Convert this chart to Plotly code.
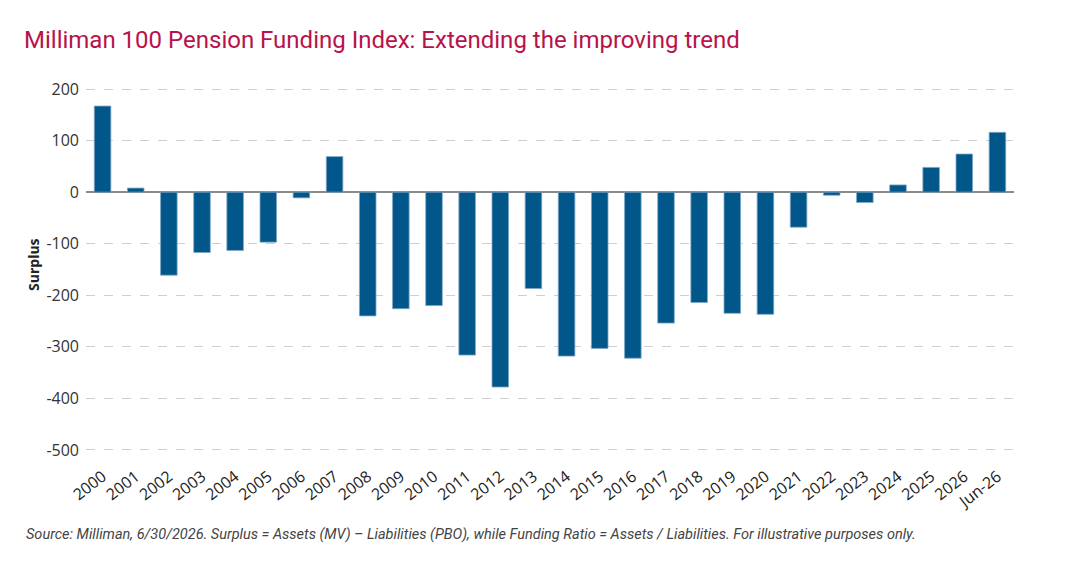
import plotly.graph_objects as go

categories = ["2000", "2001", "2002", "2003", "2004", "2005", "2006", "2007", "2008", "2009",
              "2010", "2011", "2012", "2013", "2014", "2015", "2016", "2017", "2018", "2019",
              "2020", "2021", "2022", "2023", "2024", "2025", "2026", "Jun-26"]
surplus = [167, 8, -161, -117, -113, -97, -11, 69, -240, -226,
           -220, -316, -378, -187, -318, -303, -322, -254, -214, -235,
           -237, -68, -6, -20, 14, 48, 74, 116]

y_ticks = [200, 100, 0, -100, -200, -300, -400, -500]

title_text = "Milliman 100 Pension Funding Index: Extending the improving trend"
source_text = ("Source: Milliman, 6/30/2026. Surplus = Assets (MV) \u2013 Liabilities (PBO), while Funding Ratio = "
               "Assets / Liabilities. For illustrative purposes only.")

W, H = 1065, 587
L, R, T, B = 86, 51, 87, 135

fig = go.Figure()
fig.add_trace(go.Bar(
    x=categories, y=surplus,
    marker=dict(color="#02578A", line=dict(color="#7FA6C6", width=0.8)),
    hoverinfo="x+y",
))

fig.update_layout(
    width=W, height=H,
    margin=dict(l=L, r=R, t=T, b=B, pad=0),
    paper_bgcolor="white", plot_bgcolor="white",
    bargap=0.5,
    showlegend=False,
    font=dict(family="Open Sans", color="#333333", size=15),
)

fig.update_xaxes(
    type="category",
    tickangle=-38,
    tickfont=dict(family="Open Sans", size=16, color="#222222"),
    showgrid=False, showline=False, zeroline=False,
    ticks="outside", ticklen=8, tickcolor="rgba(0,0,0,0)",
)
fig.update_yaxes(
    range=[-504, 204],
    tickvals=y_ticks,
    ticktext=[str(v) for v in y_ticks],
    tickfont=dict(family="Open Sans", size=16, color="#333333"),
    showgrid=True, gridcolor="#CFCFCF", griddash="dash", gridwidth=1,
    zeroline=True, zerolinecolor="#8A8A8A", zerolinewidth=2,
    showline=False, ticks="", ticklabelstandoff=6,
)

plot_w = W - L - R
plot_h = H - T - B

fig.add_annotation(
    text=title_text, xref="paper", yref="paper",
    x=(22 - L) / plot_w, y=(H - B - 40) / plot_h,
    xanchor="left", yanchor="middle", showarrow=False,
    font=dict(family="Roboto", size=24, color="#B8124A"),
)
fig.add_annotation(
    text="<b>Surplus</b>", xref="paper", yref="paper",
    x=(33 - L) / plot_w, y=(H - B - 265) / plot_h,
    xanchor="center", yanchor="middle", textangle=-90, showarrow=False,
    font=dict(family="Open Sans", size=14, color="#222222"),
)
fig.add_annotation(
    text="<i>" + source_text + "</i>", xref="paper", yref="paper",
    x=(24 - L) / plot_w, y=(H - B - 534) / plot_h,
    xanchor="left", yanchor="middle", showarrow=False,
    font=dict(family="Roboto", size=14.5, color="#444444"),
)

fig.write_html("out.html")
